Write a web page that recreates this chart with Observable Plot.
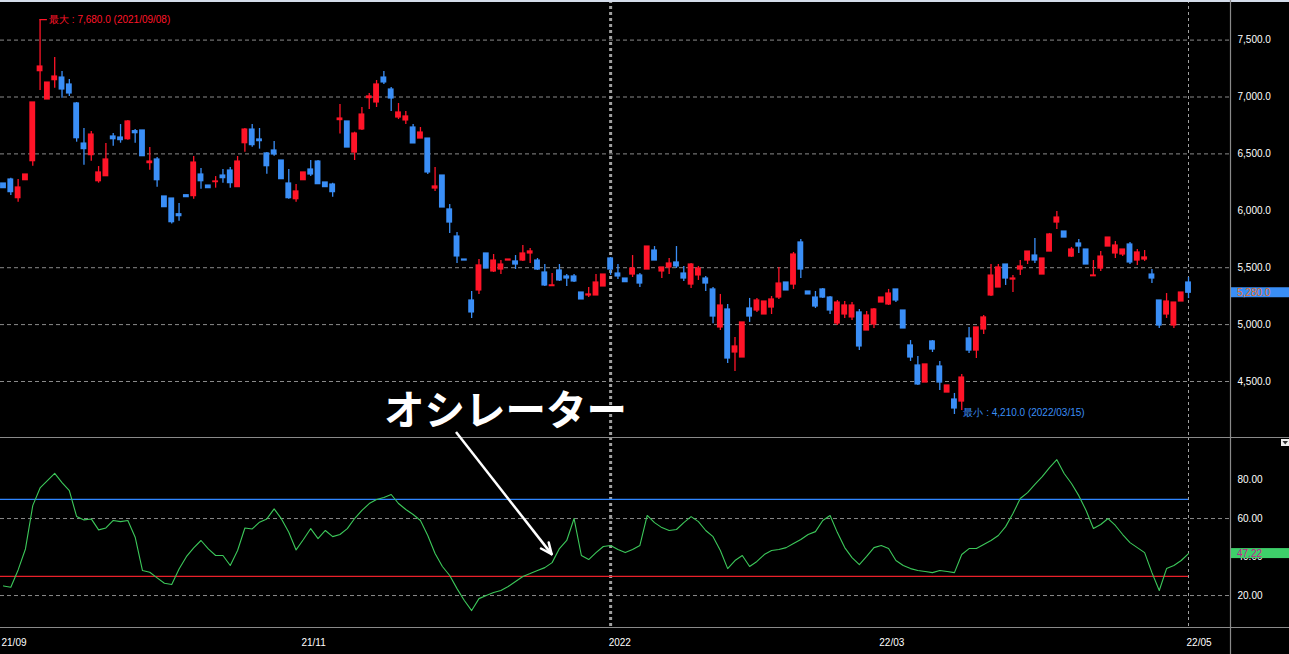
<!DOCTYPE html>
<html><head><meta charset="utf-8">
<script src="https://cdn.jsdelivr.net/npm/d3@7"></script>
<script src="https://cdn.jsdelivr.net/npm/@observablehq/plot@0.6"></script>
<style>
html,body{margin:0;padding:0;background:#000;overflow:hidden;}
#wrap{position:relative;width:1289px;height:654px;overflow:hidden;background:#000;}
#top{position:absolute;left:0;top:0;}
#bot{position:absolute;left:0;top:437px;}
#ov{position:absolute;left:0;top:0;pointer-events:none;}
</style></head><body><div id="wrap"><div id="top"></div><div id="bot"></div></div>
<script>
// ---- data ----
const opens  = [6240,6275,6111,6269,6436,7227,6978,7148,7171,7110, 6943,6591,6489,6260,6304,6653,6644,6629,6700,6706, 6419,6451,6126,6108,5970,6137,6129,6319,6222,6252, 6310,6354,6208,6594,6714,6627,6504,6530,6442,6240, 6102,6269,6363,6433,6249,6231,6797,6785,6512,6715, 6990,6952,7171,7066,6820,6794,6732,6635,6635,6196, 6310,6012,5774,5572,5212,5300,5625,5467,5484,5563, 5555,5563,5625,5563,5458,5338,5476,5423,5423,5282, 5256,5256,5335,5581,5449,5405,5440,5432,5484,5651, 5467,5502,5546,5449,5352,5432,5405,5309,4975,5133, 4755,4711,5142,5124,5089,5150,5238,5370,5352,5722, 5291,5238,5309,5238,5010,5089,5063,5107,4948,5001, 5194,5177,5309,5124,4817,4641,4491,4852,4632,4403, 4342,4324,4878,4772,4957,5256,5326,5528,5396,5484, 5563,5607,5440,5642,5897,5818,5598,5713,5660,5425, 5493,5686,5625,5616,5704,5563,5572,5440,5212,5089, 4992,5203,5370];
const highs  = [6240,6287,6275,6319,6952,7680,7127,7347,7224,7154, 6952,6723,6697,6389,6591,6679,6758,6794,6714,6706, 6556,6468,6126,6108,6064,6137,6477,6372,6222,6301, 6363,6380,6477,6723,6758,6723,6512,6609,6442,6363, 6231,6337,6442,6442,6249,6243,6934,6785,6691,6908, 7031,7145,7224,7084,6943,6873,6758,6732,6635,6381, 6310,6056,5809,5572,5291,5572,5625,5616,5563,5572, 5607,5695,5669,5581,5528,5449,5528,5440,5440,5282, 5326,5440,5440,5590,5528,5405,5607,5449,5686,5686, 5502,5581,5686,5511,5537,5511,5423,5326,5265,5177, 4887,5019,5230,5230,5203,5247,5502,5370,5634,5748, 5291,5291,5317,5247,5212,5203,5194,5133,5115,5142, 5238,5309,5309,5124,4860,4720,4650,4860,4676,4465, 4395,4562,4975,4975,5080,5528,5528,5528,5432,5563, 5642,5757,5581,5801,5994,5818,5678,5748,5660,5563, 5642,5765,5730,5660,5722,5660,5651,5484,5212,5273, 5194,5282,5414];
const lows   = [6199,6135,6076,6269,6392,7057,6978,7078,6990,7004, 6603,6401,6436,6243,6304,6568,6594,6621,6594,6480, 6357,6208,6032,5883,5909,6120,6102,6190,6199,6199, 6243,6199,6208,6515,6559,6542,6322,6480,6278,6102, 6076,6269,6302,6234,6208,6120,6674,6556,6442,6706, 6890,6908,7110,6873,6802,6758,6592,6635,6319,6170, 6029,5801,5537,5563,5054,5265,5493,5458,5440,5563, 5484,5555,5537,5476,5335,5335,5379,5335,5370,5221, 5238,5256,5335,5432,5396,5373,5414,5326,5484,5563, 5405,5440,5493,5379,5317,5388,5291,5007,4948,4658, 4588,4711,5019,5107,5089,5089,5221,5300,5309,5405, 5265,5142,5230,5089,4992,5054,5036,4773,4948,4966, 5194,5168,5194,4966,4676,4465,4491,4755,4421,4403, 4210,4245,4746,4702,4913,5247,5326,5344,5282,5432, 5528,5537,5440,5642,5836,5765,5590,5625,5528,5423, 5467,5686,5581,5598,5528,5519,5555,5361,4966,5054, 4966,5203,5229];
const closes = [6199,6164,6205,6319,6952,7268,7127,7180,7066,7031, 6638,6542,6670,6337,6451,6629,6621,6785,6682,6480, 6433,6269,6032,5900,5953,6120,6424,6260,6199,6258, 6287,6243,6433,6714,6577,6612,6392,6495,6278,6111, 6170,6337,6319,6234,6208,6164,6811,6556,6679,6846, 7005,7110,7128,6987,6864,6829,6592,6688,6337,6214, 6029,5897,5599,5563,5107,5520,5493,5563,5528,5572, 5528,5625,5643,5484,5344,5345,5388,5405,5379,5221, 5265,5370,5440,5484,5423,5373,5493,5361,5686,5563, 5502,5537,5511,5405,5528,5493,5361,5071,5168,4702, 4808,5019,5071,5212,5203,5221,5361,5300,5616,5484, 5265,5159,5238,5124,5194,5168,5168,4808,5080,5133, 5238,5273,5212,4966,4711,4474,4650,4781,4491,4465, 4263,4535,4772,4975,5063,5431,5502,5405,5405,5511, 5642,5563,5581,5792,5941,5765,5660,5686,5528,5432, 5598,5765,5695,5660,5546,5634,5590,5405,4992,5203, 5194,5282,5280];
const rsi = [25.0,24.3,33.3,44.2,66.7,75.9,79.7,83.5,78.7,74.5, 61.0,59.3,59.8,54.1,55.1,59.0,58.4,59.0,50.3,33.0, 32.1,29.2,26.4,25.7,33.8,40.2,44.8,48.6,44.2,40.8, 40.8,35.6,43.4,55.1,54.6,58.1,59.8,65.0,59.8,52.9, 43.7,49.1,54.8,49.6,53.8,50.6,51.7,54.8,60.0,64.2, 67.8,69.9,70.9,72.5,67.8,64.7,62.1,59.0,51.2,41.8, 35.1,30.4,23.6,17.4,12.2,18.4,20.0,21.6,22.6,24.7, 27.3,29.9,31.4,33.0,34.5,37.1,44.4,48.6,60.0,40.8, 38.7,42.3,45.5,46.0,43.9,42.3,43.9,46.0,61.6,57.9, 55.3,53.8,54.3,57.9,61.0,58.4,53.8,50.6,43.4,34.0, 38.2,40.8,35.1,37.7,41.3,43.4,43.9,44.9,47.0,49.1, 51.7,53.2,59.0,61.6,52.7,44.9,39.7,36.1,40.3,44.9, 46.0,44.4,38.2,35.6,34.0,33.0,32.5,31.9,33.0,32.5, 31.9,41.3,44.4,44.4,46.5,48.6,51.2,55.8,62.6,70.4, 73.5,77.7,81.8,86.5,90.6,83.4,78.2,71.9,64.2,54.8, 56.9,60.0,56.4,51.7,47.5,44.9,42.3,31.9,22.6,34.0, 35.6,38.2,41.8];
const priceTicks = [4500,5000,5500,6000,6500,7000,7500];
const priceGrid  = [4500,5000,5500,6500,7000,7500];
const rsiTicks   = [20,40,60,80];
const rsiGrid    = [20,60];
const rsiUpper   = [70];
const rsiLower   = [30];
const xTickIdx   = [0,41,83,120,162];
const xTickLabels= ["21/09","21/11","2022","22/03","22/05"];
const yearLineIdx = [83];
const nowLineIdx  = [162];
const maxMark = [{i:5, v:7680, label:"最大 : 7,680.0 (2021/09/08)"}];
const minMark = [{i:130, v:4210, label:"最小 : 4,210.0 (2022/03/15)"}];
const lastPriceLabel = "5,280.0";
const lastRsiLabel = "47.22";
const annotation = "オシレーター";
const annotationIdx = 75;

// ---- build ----
const RED="#ff1428", BLUE="#3a8ef6", GREEN="#3cc85a", GRID="#8a8a8a";
const FONT="'Liberation Sans', Arial, sans-serif";
const xDomain=[-0.41,167.74];
const candles = opens.map((o,i)=>({i,o,h:highs[i],l:lows[i],c:closes[i],col:closes[i]>=o?RED:BLUE}));
const rsiData = rsi.map((v,i)=>({i,v}));

const topPlot = Plot.plot({
  width:1289,height:437,marginLeft:0,marginRight:59,marginTop:0,marginBottom:0,
  style:{background:"#000",color:"#fff",fontSize:"10px",fontFamily:FONT},
  x:{type:"linear",domain:xDomain,axis:null},
  y:{domain:[4008,7848]},
  marks:[
    Plot.ruleY(priceGrid,{stroke:GRID,strokeDasharray:"4,3",strokeWidth:1}),
    Plot.ruleX(yearLineIdx,{stroke:"#a0a0a0",strokeWidth:3,strokeDasharray:"3,3"}),
    Plot.ruleX(nowLineIdx,{stroke:"#a0a0a0",strokeWidth:1,strokeDasharray:"3,3"}),
    Plot.ruleX(candles,{x:"i",y1:"l",y2:"h",stroke:"col",strokeWidth:1.3}),
    Plot.rect(candles,{x1:d=>d.i-0.4,x2:d=>d.i+0.4,y1:d=>Math.min(d.o,d.c),y2:d=>Math.max(d.o,d.c),fill:"col",insetTop:-0.6,insetBottom:-0.6}),
    Plot.ruleY(maxMark,{y:"v",x1:"i",x2:d=>d.i+1,stroke:RED,strokeWidth:1.3}),
    Plot.text(maxMark,{x:"i",y:"v",text:"label",dx:9,textAnchor:"start",fill:RED,fontSize:10}),
    Plot.text(minMark,{x:"i",y:"v",text:"label",dx:9,dy:-2,textAnchor:"start",fill:BLUE,fontSize:10}),
    Plot.axisY({anchor:"right",label:null,ticks:priceTicks,tickSize:0,tickPadding:7,tickFormat:d3.format(",.1f"),fill:"#fff",fontSize:10})
  ]
});
document.getElementById("top").appendChild(topPlot);

const botPlot = Plot.plot({
  width:1289,height:217,marginLeft:0,marginRight:59,marginTop:0,marginBottom:27,
  style:{background:"#000",color:"#fff",fontSize:"10px",fontFamily:FONT},
  x:{type:"linear",domain:xDomain},
  y:{domain:[3.4,102.1]},
  marks:[
    Plot.ruleY(rsiGrid,{stroke:GRID,strokeDasharray:"4,3",strokeWidth:1}),
    Plot.ruleX(yearLineIdx,{stroke:"#a0a0a0",strokeWidth:3,strokeDasharray:"3,3"}),
    Plot.ruleX(nowLineIdx,{stroke:"#a0a0a0",strokeWidth:1,strokeDasharray:"3,3"}),
    Plot.ruleY(rsiUpper,{x1:xDomain[0],x2:nowLineIdx[0],stroke:"#2f86ff",strokeWidth:1.3}),
    Plot.ruleY(rsiLower,{x1:xDomain[0],x2:nowLineIdx[0],stroke:"#e8202a",strokeWidth:1.3}),
    Plot.line(rsiData,{x:"i",y:"v",stroke:GREEN,strokeWidth:1.1}),
    Plot.axisY({anchor:"right",label:null,ticks:rsiTicks,tickSize:0,tickPadding:7,tickFormat:d3.format(".2f"),fill:"#fff",fontSize:10}),
    Plot.axisX({label:null,ticks:xTickIdx,tickFormat:(d)=>xTickLabels[xTickIdx.indexOf(d)],tickSize:0,tickPadding:11,textAnchor:"start",dx:-2,fill:"#fff",fontSize:10})
  ]
});
document.getElementById("bot").appendChild(botPlot);

// ---- overlay: frame lines, value boxes, annotation ----
const ov = d3.select("#wrap").append("svg").attr("id","ov").attr("width",1289).attr("height",654);
ov.append("rect").attr("x",0).attr("y",0).attr("width",1289).attr("height",2).attr("fill","#d4dcea");
[437.5,627.5].forEach(y=>ov.append("line").attr("x1",0).attr("x2",1289).attr("y1",y).attr("y2",y).attr("stroke",GRID).attr("stroke-width",1.2));
ov.append("line").attr("x1",1230.5).attr("x2",1230.5).attr("y1",0).attr("y2",654).attr("stroke",GRID).attr("stroke-width",1.2);

const yT = topPlot.scale("y"), yB = botPlot.scale("y"), xB = botPlot.scale("x");
const py = yT.apply(closes[closes.length-1]);
ov.append("rect").attr("x",1231).attr("y",py-5).attr("width",58).attr("height",10).attr("fill",BLUE);
ov.append("text").attr("x",1237).attr("y",py).attr("dy","0.35em").attr("fill","#e8701a").attr("font-size",10).attr("font-family",FONT).text(lastPriceLabel);
const ry = 437 + yB.apply(rsi[rsi.length-1]);
ov.append("rect").attr("x",1231).attr("y",ry-5).attr("width",58).attr("height",10).attr("fill","#3ecf6a");
ov.append("text").attr("x",1237).attr("y",ry).attr("dy","0.35em").attr("fill","#c4208e").attr("font-size",10).attr("font-family",FONT).text(lastRsiLabel);
// small menu icon
ov.append("rect").attr("x",1281).attr("y",439).attr("width",8).attr("height",7).attr("fill","#eeeeee");
ov.append("path").attr("d","M1282.5,441 L1288,441 L1285.2,444.5 Z").attr("fill","#333");

// annotation
ov.append("text").attr("x",384).attr("y",407).attr("dominant-baseline","central")
  .attr("fill","#fff").attr("font-size",40.5).attr("font-weight",700)
  .attr("font-family","'Noto Sans CJK JP', sans-serif").text(annotation);
const tx = xB.apply(annotationIdx), ty = 437 + yB.apply(rsi[annotationIdx]) - 8;
const sx = 456, sy = 432;
ov.append("line").attr("x1",sx).attr("y1",sy).attr("x2",tx).attr("y2",ty).attr("stroke","#fff").attr("stroke-width",2.5);
const ang = Math.atan2(ty-sy, tx-sx), L=12, spread=0.42;
[ang+Math.PI-spread, ang+Math.PI+spread].forEach(a=>{
  ov.append("line").attr("x1",tx).attr("y1",ty).attr("x2",tx+L*Math.cos(a)).attr("y2",ty+L*Math.sin(a)).attr("stroke","#fff").attr("stroke-width",2.5).attr("stroke-linecap","round");
});
</script></body></html>
